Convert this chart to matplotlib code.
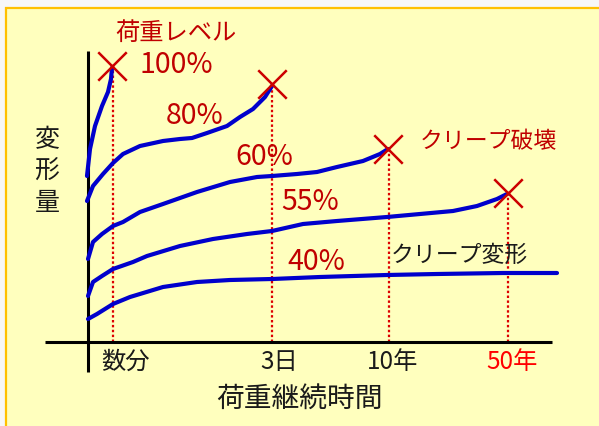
import matplotlib
matplotlib.use("Agg")
import matplotlib.pyplot as plt
from matplotlib.patches import Rectangle

plt.rcParams['font.family'] = ['Noto Sans CJK JP', 'DejaVu Sans']

# ---- data (schematic units: x = time position, y = deformation, drawn top-down) ----
curve100_x = [87, 90, 95, 102, 108, 111, 112]
curve100_y = [177, 150, 127, 107, 93, 80, 69]

curve80_x = [87, 93, 103, 113, 123, 140, 163, 180, 192, 207, 227, 240, 253, 265, 272]
curve80_y = [202, 187, 175, 164, 155, 147, 142, 140, 139, 134, 127, 118, 110, 98, 87]

curve60_x = [88, 93, 102, 113, 123, 140, 163, 197, 230, 257, 272, 297, 317, 337, 363, 380, 388]
curve60_y = [260, 243, 235, 227, 223, 213, 205, 193, 183, 178, 177, 175, 173, 168, 162, 155, 150]

curve55_x = [88, 93, 102, 113, 133, 147, 180, 213, 247, 272, 303, 337, 387, 420, 453, 477, 497, 507]
curve55_y = [297, 283, 277, 270, 263, 257, 247, 240, 235, 232, 225, 222, 218, 215, 212, 207, 200, 195]

curve40_x = [88, 97, 113, 130, 163, 197, 230, 272, 320, 387, 437, 503, 557]
curve40_y = [320, 315, 305, 298, 288, 283, 281, 280, 278, 276, 275, 274, 274]

break_x = [112, 272, 388, 508]
break_y = [67, 85, 150, 194]

tick_x = [113, 272, 389, 508]
tick_labels = ['数分', '3日', '10年', '50年']
tick_label_x = [125, 279, 393, 512]
tick_colors = ['#1a1a1a', '#1a1a1a', '#1a1a1a', '#ff0000']

level_labels = ['100%', '80%', '60%', '55%', '40%']
level_x = [176, 195, 264, 310, 316]
level_y = [65, 116, 157, 202, 262]

axis_origin_x = 88
axis_top_y = 52
axis_bottom_y = 373
xaxis_y = 343
xaxis_left = 45
xaxis_right = 552

W, H = 599, 427
fig = plt.figure(figsize=(W / 100, H / 100), dpi=100)
fig.patch.set_facecolor('#f7f7f7')
ax = fig.add_axes([0, 0, 1, 1])
ax.set_xlim(0, W)
ax.set_ylim(H, 0)
ax.axis('off')

# background panel with orange border (top/left)
ax.add_patch(Rectangle((4.5, 7.5), W, H, facecolor='#ffffbe', edgecolor='none', zorder=0))
ax.plot([5.5, 5.5], [7.5, H], color='#ffc000', lw=1.6, zorder=1, solid_capstyle='butt')
ax.plot([4.5, W], [8.5, 8.5], color='#ffc000', lw=1.6, zorder=1, solid_capstyle='butt')

# axes lines
ax.plot([axis_origin_x, axis_origin_x], [axis_top_y, axis_bottom_y], color='black', lw=2.2, zorder=3,
        solid_capstyle='butt')
ax.plot([xaxis_left, xaxis_right], [xaxis_y, xaxis_y], color='black', lw=2.2, zorder=3,
        solid_capstyle='butt')

# dotted red vertical lines (from x-axis up to rupture / curve)
for tx, ty in zip(tick_x, break_y):
    ax.plot([tx, tx], [xaxis_y, ty], color='#dd0000', lw=1.6, ls=(0, (1.1, 1.1)), zorder=2)

# curves
for cx, cy in [(curve100_x, curve100_y), (curve80_x, curve80_y), (curve60_x, curve60_y),
               (curve55_x, curve55_y), (curve40_x, curve40_y)]:
    ax.plot(cx, cy, color='#0000cc', lw=3.0, zorder=4, solid_capstyle='round', solid_joinstyle='round')

# rupture markers
ax.scatter(break_x, break_y, marker='x', s=420, color='#cc0000', linewidths=1.8, zorder=5)

# tick labels
for lx, lab, c in zip(tick_label_x, tick_labels, tick_colors):
    ax.text(lx, 362, lab, color=c, fontsize=17.5, ha='center', va='center', zorder=6)

# level labels
for lab, lx, ly in zip(level_labels, level_x, level_y):
    ax.text(lx, ly, lab, color='#c00000', fontsize=20.5, ha='center', va='center', zorder=6)

ax.text(176, 33, '荷重レベル', color='#c00000', fontsize=17.5, ha='center', va='center', zorder=6)
ax.text(488, 142, 'クリープ破壊', color='#c00000', fontsize=16.5, ha='center', va='center', zorder=6)
ax.text(459, 255, 'クリープ変形', color='#1a1a1a', fontsize=16.5, ha='center', va='center', zorder=6)

for ch, cy in zip('変形量', [140, 172, 203]):
    ax.text(47, cy, ch, color='#1a1a1a', fontsize=18, ha='center', va='center', zorder=6)

ax.text(299, 399, '荷重継続時間', color='#1a1a1a', fontsize=20, ha='center', va='center', zorder=6)

fig.savefig('out.png', dpi=100, facecolor=fig.get_facecolor())
